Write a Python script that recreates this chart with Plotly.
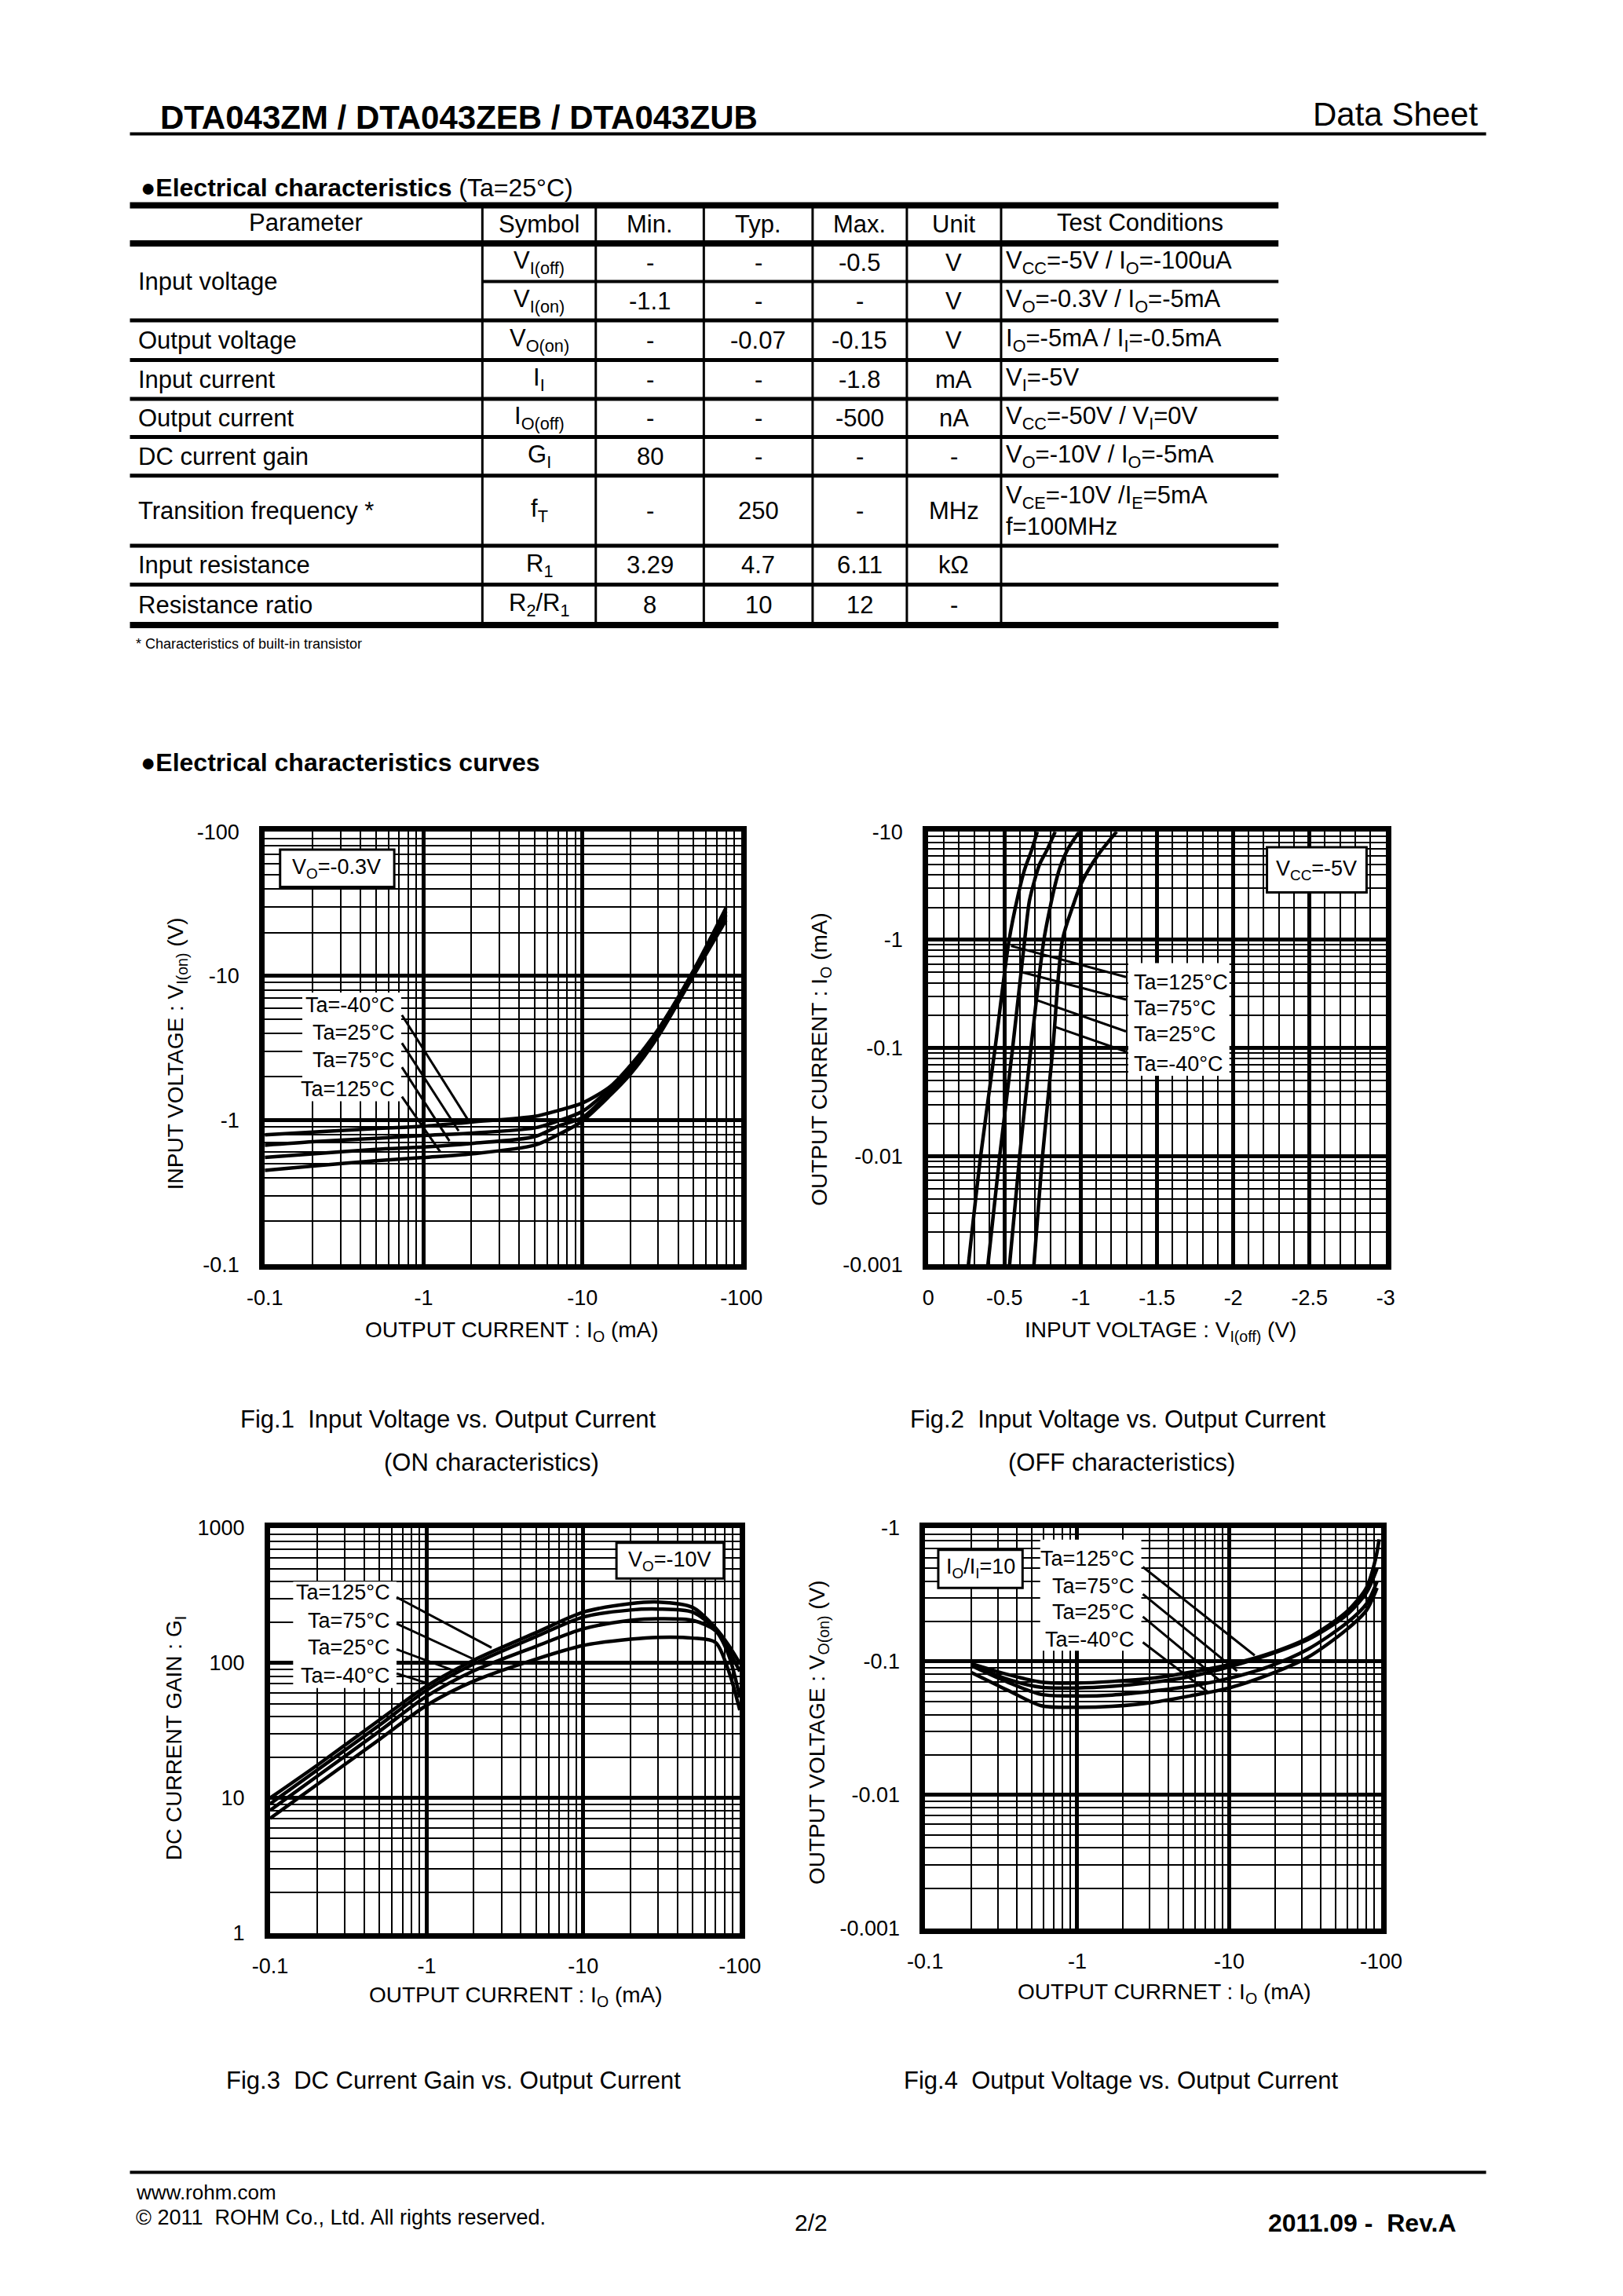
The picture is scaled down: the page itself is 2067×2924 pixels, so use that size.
import numpy as np
import plotly.graph_objects as go

W, H = 2067, 2924
FONT = "Liberation Sans, Arial, sans-serif"

# ---------------- Electrical characteristics table (Ta=25°C) ----------------
tbl_param = ["Input voltage", "Output voltage", "Input current", "Output current",
             "DC current gain", "Transition frequency *", "Input resistance", "Resistance ratio"]
tbl_param_rows = [2, 1, 1, 1, 1, 1, 1, 1]   # how many sub-rows each parameter spans
tbl_symbol = ["V<sub>I(off)</sub>", "V<sub>I(on)</sub>", "V<sub>O(on)</sub>", "I<sub>I</sub>",
              "I<sub>O(off)</sub>", "G<sub>I</sub>", "f<sub>T</sub>", "R<sub>1</sub>",
              "R<sub>2</sub>/R<sub>1</sub>"]
tbl_min = ["-", "-1.1", "-", "-", "-", "80", "-", "3.29", "8"]
tbl_typ = ["-", "-", "-0.07", "-", "-", "-", "250", "4.7", "10"]
tbl_max = ["-0.5", "-", "-0.15", "-1.8", "-500", "-", "-", "6.11", "12"]
tbl_unit = ["V", "V", "V", "mA", "nA", "-", "MHz", "kΩ", "-"]
tbl_cond = ["V<sub>CC</sub>=-5V / I<sub>O</sub>=-100uA",
            "V<sub>O</sub>=-0.3V / I<sub>O</sub>=-5mA",
            "I<sub>O</sub>=-5mA / I<sub>I</sub>=-0.5mA",
            "V<sub>I</sub>=-5V",
            "V<sub>CC</sub>=-50V / V<sub>I</sub>=0V",
            "V<sub>O</sub>=-10V / I<sub>O</sub>=-5mA",
            "V<sub>CE</sub>=-10V /I<sub>E</sub>=5mA<br>f=100MHz",
            "", ""]
tbl_head = ["Parameter", "Symbol", "Min.", "Typ.", "Max.", "Unit", "Test Conditions"]

# ---------------- Fig.1  ON characteristics (Vo=-0.3V) ----------------
# output current magnitude (mA) / input voltage magnitude (V)
io_on = [0.1, 0.2, 0.5, 1, 2, 5, 7, 10, 15, 20, 30, 50, 80]
vi_on_m40 = [0.793, 0.829, 0.876, 0.910, 0.973, 1.063, 1.167, 1.318, 1.718, 2.394, 4.277, 10.94, 29.6]
vi_on_25 = [0.672, 0.710, 0.750, 0.784, 0.815, 0.886, 0.989, 1.154, 1.672, 2.328, 4.206, 10.64, 28.0]
vi_on_75 = [0.553, 0.585, 0.629, 0.653, 0.691, 0.771, 0.910, 1.045, 1.582, 2.204, 4.047, 10.35, 26.5]
vi_on_125 = [0.449, 0.482, 0.524, 0.553, 0.585, 0.672, 0.793, 0.989, 1.497, 2.085, 3.83, 10.07, 24.4]

# ---------------- Fig.2  OFF characteristics (Vcc=-5V) ----------------
io_off_125 = [0.001, 0.01, 0.1, 1, 2.56, 4.4, 6.9, 10]
vi_off_125 = [-0.263, -0.343, -0.438, -0.530, -0.588, -0.630, -0.680, -0.715]
io_off_75 = [0.001, 0.01, 0.1, 1, 2.29, 3.56, 5.0, 6.9, 10]
vi_off_75 = [-0.391, -0.468, -0.553, -0.632, -0.663, -0.697, -0.730, -0.781, -0.832]
io_off_25 = [0.001, 0.01, 0.1, 1, 1.94, 3.2, 4.69, 6.9, 10]
vi_off_25 = [-0.533, -0.599, -0.673, -0.758, -0.797, -0.831, -0.864, -0.915, -0.990]
io_off_m40 = [0.001, 0.01, 0.1, 1, 2.05, 3.2, 4.4, 6.17, 10]
vi_off_m40 = [-0.693, -0.749, -0.817, -0.880, -0.948, -0.998, -1.049, -1.116, -1.235]

# ---------------- Fig.3  DC current gain (Vo=-10V) ----------------
io_gain = [0.1, 0.2, 0.5, 1, 2, 5, 10, 20, 30, 50, 70, 85, 100]
gi_125 = [10.0, 17.5, 37.9, 67.6, 105, 168, 238, 275, 283, 258, 182, 135, 99.5]
gi_75 = [9.06, 16.1, 34.7, 63.0, 98.4, 157, 219, 247, 251, 238, 177, 124, 86.7]
gi_25 = [8.11, 14.5, 31.3, 56.7, 87.6, 133, 179, 207, 213, 207, 173, 114, 55.7]
gi_m40 = [7.07, 12.6, 27.2, 48.6, 73.5, 107, 135, 150, 155, 153, 142, 86.7, 44.7]

# ---------------- Fig.4  Output voltage (Io/Ii=10) ----------------
io_sat_125 = [0.2, 0.36, 0.58, 1, 1.7, 3.1, 5.5, 10, 18, 33, 59, 80, 92, 97]
vo_125 = [0.0962, 0.0791, 0.0700, 0.0689, 0.0708, 0.0748, 0.0828, 0.0946, 0.1137, 0.150, 0.2346, 0.3565, 0.589, 0.823]
io_sat = [0.2, 0.36, 0.58, 1, 1.7, 3.1, 5.5, 10, 18, 33, 59, 80, 94]
vo_75 = [0.0946, 0.0728, 0.0640, 0.0633, 0.0651, 0.0696, 0.0769, 0.0910, 0.1117, 0.146, 0.2219, 0.328, 0.498]
vo_25 = [0.0935, 0.0689, 0.0566, 0.0551, 0.0560, 0.0598, 0.0651, 0.0748, 0.0910, 0.1236, 0.1930, 0.270, 0.398]
vo_m40 = [0.0828, 0.0598, 0.0466, 0.0453, 0.0461, 0.0492, 0.0551, 0.0633, 0.0791, 0.1075, 0.1726, 0.2415, 0.3565]

ta_labels = ["Ta=125°C", "Ta=75°C", "Ta=25°C", "Ta=-40°C"]


def fx(x):
    return x / W


def fy(y):
    return 1 - y / H


annotations = []
shapes = []


def add_text(x, y, text, size=31, xanchor="left", yanchor="middle", angle=0, align="left"):
    annotations.append(dict(x=fx(x), y=fy(y), xref="paper", yref="paper", text=text,
                            showarrow=False, xanchor=xanchor, yanchor=yanchor, textangle=angle,
                            align=align, font=dict(family=FONT, size=size, color="black")))


def add_line(x0, y0, x1, y1, width):
    shapes.append(dict(type="line", xref="paper", yref="paper", x0=fx(x0), y0=fy(y0),
                       x1=fx(x1), y1=fy(y1), line=dict(color="black", width=width)))


def add_rect(x0, y0, x1, y1, border=0):
    shapes.append(dict(type="rect", xref="paper", yref="paper", x0=fx(x0), y0=fy(y0),
                       x1=fx(x1), y1=fy(y1), fillcolor="white", layer="above",
                       line=dict(color="black", width=border) if border else dict(width=0)))


# ---------------- page header ----------------
add_text(183, 136, "<b>DTA043ZM / DTA043ZEB / DTA043ZUB</b>", size=42)
add_text(1907, 132, "Data Sheet", size=42, xanchor="right")
add_line(146, 157, 1916, 157, 4)
add_text(158, 226, "<b>●Electrical characteristics</b> (Ta=25°C)", size=32)

# ---------------- table ----------------
t_left, t_right = 146, 1645
col_sep = [606, 754, 895, 1037, 1160, 1283]
row_edges = [298, 347, 397, 448, 498, 547, 597, 687, 737, 789]
col_mid = [(col_sep[i] + col_sep[i + 1]) / 2 for i in range(5)]

add_line(t_left, 249, t_right, 249, 8)
add_line(t_left, 298, t_right, 298, 8)
add_line(col_sep[0], 347, t_right, 347, 4)
for y in row_edges[2:-1]:
    add_line(t_left, y, t_right, y, 5)
add_line(t_left, 789, t_right, 789, 8)
for x in col_sep:
    add_line(x, 249, x, 789, 3)

add_text((t_left + col_sep[0]) / 2, 271, tbl_head[0], xanchor="center")
for i, h in enumerate(tbl_head[1:6]):
    add_text(col_mid[i], 273, h, xanchor="center")
add_text((col_sep[-1] + t_right) / 2, 271, tbl_head[6], xanchor="center")

r = 0
for name, span in zip(tbl_param, tbl_param_rows):
    add_text(155, (row_edges[r] + row_edges[r + span]) / 2, name)
    r += span
for i in range(len(tbl_symbol)):
    yc = (row_edges[i] + row_edges[i + 1]) / 2
    for j, col in enumerate([tbl_symbol, tbl_min, tbl_typ, tbl_max, tbl_unit]):
        add_text(col_mid[j], yc, col[i], xanchor="center")
    if tbl_cond[i]:
        add_text(1287, yc, tbl_cond[i])
add_text(152, 813, "* Characteristics of built-in transistor", size=18)

add_text(158, 966, "<b>●Electrical characteristics curves</b>", size=32)

# ---------------- charts ----------------
fig = go.Figure()

# subplot frames in page pixels: (left, right, top, bottom)
boxes = {
    1: (322, 944, 1055, 1612),
    2: (1188, 1785, 1055, 1612),
    3: (329, 942, 1951, 2472),
    4: (1184, 1779, 1951, 2466),
}

TICKFONT = dict(family=FONT, size=27, color="black")


def base_axis(domain, anchor, standoff):
    return dict(domain=domain, anchor=anchor, showgrid=True, gridcolor="black", gridwidth=5,
                showline=True, mirror=True, linecolor="black", linewidth=7, ticks="",
                zeroline=False, tickfont=TICKFONT, ticklabelstandoff=standoff, fixedrange=True)


def log_axis(domain, anchor, rng, vals, labels, standoff):
    minor_vals = [m * 10.0 ** e for e in range(rng[0], rng[1]) for m in range(2, 10)]
    ax = base_axis(domain, anchor, standoff)
    ax.update(type="log", range=rng, tickmode="array", tickvals=vals, ticktext=labels,
              minor=dict(tickmode="array", tickvals=minor_vals, showgrid=True,
                         gridcolor="black", gridwidth=1.5, ticks=""))
    return ax


def xdom(k):
    return [boxes[k][0] / W, boxes[k][1] / W]


def ydom(k):
    return [1 - boxes[k][3] / H, 1 - boxes[k][2] / H]


cur_vals = [0.1, 1, 10, 100]
cur_text = ["-0.1", "-1", "-10", "-100"]
XSTAND, YSTAND = 12, 20

layout_axes = dict(
    xaxis=log_axis(xdom(1), "y", [-1, 2], cur_vals, cur_text, XSTAND),
    yaxis=log_axis(ydom(1), "x", [-1, 2], [0.1, 1, 10, 100], ["-0.1", "-1", "-10", "-100"], YSTAND),
    xaxis3=log_axis(xdom(3), "y3", [-1, 2], cur_vals, cur_text, XSTAND),
    yaxis3=log_axis(ydom(3), "x3", [0, 3], [1, 10, 100, 1000], ["1", "10", "100", "1000"], YSTAND),
    xaxis4=log_axis(xdom(4), "y4", [-1, 2], cur_vals, cur_text, XSTAND),
    yaxis4=log_axis(ydom(4), "x4", [-3, 0], [0.001, 0.01, 0.1, 1],
                    ["-0.001", "-0.01", "-0.1", "-1"], YSTAND),
    yaxis2=log_axis(ydom(2), "x2", [-3, 1], [0.001, 0.01, 0.1, 1, 10],
                    ["-0.001", "-0.01", "-0.1", "-1", "-10"], YSTAND),
)
xa2 = base_axis(xdom(2), "y2", XSTAND)
xa2.update(type="linear", range=[0, -3], tickmode="array",
           tickvals=[0, -0.5, -1, -1.5, -2, -2.5, -3],
           ticktext=["0", "-0.5", "-1", "-1.5", "-2", "-2.5", "-3"],
           minor=dict(tickmode="array", tickvals=[-k / 10 for k in range(1, 30) if k % 5],
                      showgrid=True, gridcolor="black", gridwidth=1.5, ticks=""))
layout_axes["xaxis2"] = xa2


def curve(x, y, n):
    fig.add_trace(go.Scatter(x=x, y=y, xaxis="x" if n == 1 else f"x{n}",
                             yaxis="y" if n == 1 else f"y{n}", mode="lines",
                             line=dict(color="black", width=4.5, shape="spline", smoothing=0.8),
                             hoverinfo="skip", showlegend=False))


for v in [vi_on_m40, vi_on_25, vi_on_75, vi_on_125]:
    curve(io_on, v, 1)
for x, y in [(vi_off_125, io_off_125), (vi_off_75, io_off_75),
             (vi_off_25, io_off_25), (vi_off_m40, io_off_m40)]:
    curve(x, y, 2)
for g in [gi_125, gi_75, gi_25, gi_m40]:
    curve(io_gain, g, 3)
curve(io_sat_125, vo_125, 4)
for v in [vo_75, vo_25, vo_m40]:
    curve(io_sat, v, 4)

# condition boxes
add_rect(342, 1078, 491, 1126, 3)
add_text(416, 1102, "V<sub>O</sub>=-0.3V", size=27, xanchor="center")
add_rect(1630, 1075, 1760, 1133, 3)
add_text(1695, 1104, "V<sub>CC</sub>=-5V", size=27, xanchor="center")
add_rect(781, 1970, 921, 2016, 3)
add_text(851, 1993, "V<sub>O</sub>=-10V", size=27, xanchor="center")
add_rect(1201, 1979, 1311, 2028, 3)
add_text(1256, 2003, "I<sub>O</sub>/I<sub>I</sub>=10", size=27, xanchor="center")

# temperature labels with leader lines
# fig.1 lists -40 first
add_rect(371, 1262, 500, 1402)
for lab, yc, (a, b) in zip(ta_labels[::-1], [1278, 1313, 1349, 1386],
                           [((501, 1291), (588, 1427)), ((501, 1327), (575, 1440)),
                            ((501, 1358), (563, 1453)), ((501, 1396), (551, 1467))]):
    add_text(494, yc, lab, size=27, xanchor="right")
    add_line(a[0], a[1], b[0], b[1], 3)

add_rect(1449, 1224, 1581, 1369)
for lab, yc, (a, b) in zip(ta_labels, [1249, 1282, 1316, 1354],
                           [((1446, 1242), (1296, 1202)), ((1446, 1271), (1311, 1236)),
                            ((1446, 1312), (1330, 1272)), ((1446, 1338), (1353, 1306))]):
    add_text(1454, yc, lab, size=27, xanchor="left")
    add_line(a[0], a[1], b[0], b[1], 3)

add_rect(359, 2020, 494, 2157)
for lab, yc, (a, b) in zip(ta_labels, [2034, 2070, 2105, 2141],
                           [((494, 2040), (618, 2105)), ((494, 2074), (593, 2119)),
                            ((494, 2107), (573, 2136)), ((494, 2138), (538, 2152))]):
    add_text(488, yc, lab, size=27, xanchor="right")
    add_line(a[0], a[1], b[0], b[1], 3)

add_rect(1334, 1966, 1466, 2109)
for lab, yc, (a, b) in zip(ta_labels, [1990, 2026, 2059, 2094],
                           [((1468, 2001), (1614, 2115)), ((1468, 2036), (1591, 2135)),
                            ((1468, 2065), (1568, 2147)), ((1468, 2098), (1553, 2162))]):
    add_text(1459, yc, lab, size=27, xanchor="right")
    add_line(a[0], a[1], b[0], b[1], 3)

# axis titles
add_text(645, 1698, "OUTPUT CURRENT : I<sub>O</sub> (mA)", size=28, xanchor="center")
add_text(207, 1340, "INPUT VOLTAGE : V<sub>I(on)</sub> (V)", size=28, xanchor="center", angle=-90)
add_text(1491, 1698, "INPUT VOLTAGE : V<sub>I(off)</sub> (V)", size=28, xanchor="center")
add_text(1048, 1348, "OUTPUT CURRENT : I<sub>O</sub> (mA)", size=28, xanchor="center", angle=-90)
add_text(650, 2554, "OUTPUT CURRENT : I<sub>O</sub> (mA)", size=28, xanchor="center")
add_text(205, 2222, "DC CURRENT GAIN : G<sub>I</sub>", size=28, xanchor="center", angle=-90)
add_text(1496, 2550, "OUTPUT CURRNET : I<sub>O</sub> (mA)", size=28, xanchor="center")
add_text(1045, 2214, "OUTPUT VOLTAGE : V<sub>O(on)</sub> (V)", size=28, xanchor="center", angle=-90)

# captions
add_text(561, 1811, "Fig.1  Input Voltage vs. Output Current", size=31, xanchor="center")
add_text(618, 1867, "(ON characteristics)", size=31, xanchor="center")
add_text(1435, 1811, "Fig.2  Input Voltage vs. Output Current", size=31, xanchor="center")
add_text(1440, 1867, "(OFF characteristics)", size=31, xanchor="center")
add_text(568, 2662, "Fig.3  DC Current Gain vs. Output Current", size=31, xanchor="center")
add_text(1440, 2662, "Fig.4  Output Voltage vs. Output Current", size=31, xanchor="center")

# footer
add_line(146, 2780, 1916, 2780, 4)
add_text(152, 2806, "www.rohm.com", size=26)
add_text(152, 2838, "© 2011  ROHM Co., Ltd. All rights reserved.", size=27)
add_text(1035, 2845, "2/2", size=30, xanchor="center")
add_text(1879, 2845, "<b>2011.09 -  Rev.A</b>", size=32, xanchor="right")

fig.update_layout(
    width=W, height=H,
    margin=dict(l=0, r=0, t=0, b=0),
    paper_bgcolor="white", plot_bgcolor="white",
    font=dict(family=FONT, color="black"),
    showlegend=False,
    annotations=annotations,
    shapes=shapes,
    **layout_axes,
)

# page should be exactly the figure: no body margin
fig.write_html("out.html", config={"displayModeBar": False},
               post_script="document.body.style.margin='0';")
